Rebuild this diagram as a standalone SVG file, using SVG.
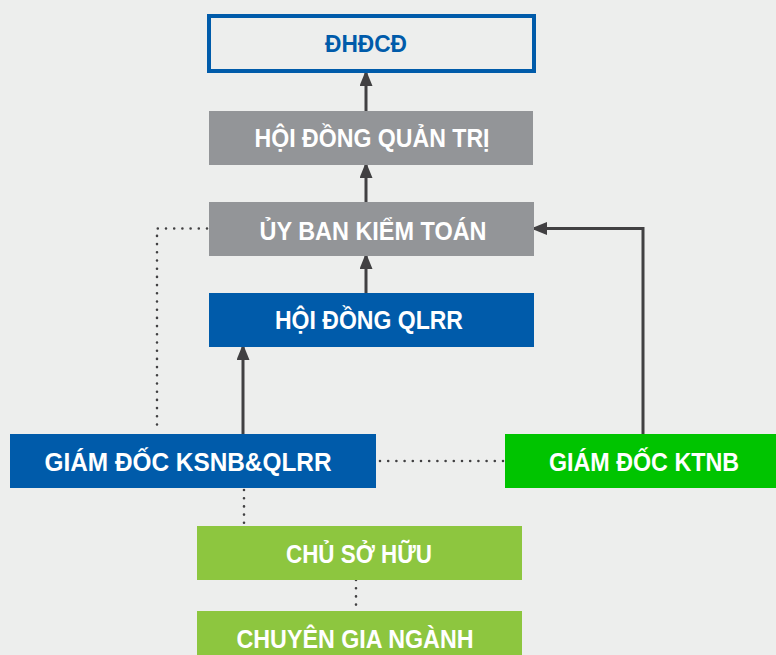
<svg xmlns="http://www.w3.org/2000/svg" width="776" height="655" viewBox="0 0 776 655">
<defs>
<marker id="ah" viewBox="0 0 13 16" refX="13" refY="6.5" markerWidth="13" markerHeight="16" markerUnits="userSpaceOnUse" orient="auto">
<path d="M0,0 L16,6.5 L0,13 Z" fill="#414042"/>
</marker>
<style>
.t{font-family:"Liberation Sans",Arial,sans-serif;font-weight:bold;font-size:25px;fill:#fff;text-anchor:middle}
.line{stroke:#414042;stroke-width:3;fill:none}
.dot{stroke:#414042;stroke-width:2.6;fill:none;stroke-linecap:round;stroke-dasharray:0 8.2}
.blue{fill:#005BAA}.gray{fill:#939598}.green{fill:#00C400}.lg{fill:#8DC63F}
</style>
</defs>
<rect width="776" height="655" fill="#EDEEED"/>
<g id="connectors">
<line class="line" x1="366" y1="111" x2="366" y2="73" marker-end="url(#ah)"/>
<line class="line" x1="366" y1="202" x2="366" y2="165" marker-end="url(#ah)"/>
<line class="line" x1="366" y1="293" x2="366" y2="256" marker-end="url(#ah)"/>
<line class="line" x1="243" y1="434" x2="243" y2="347" marker-end="url(#ah)"/>
<polyline class="line" points="643,434 643,228.5 534,228.5" marker-end="url(#ah)"/>
<polyline class="dot" points="207,228.5 157,228.5 157,432"/>
<line class="dot" x1="380" y1="461" x2="503" y2="461"/>
<line class="dot" x1="244" y1="490" x2="244" y2="525"/>
<line class="dot" x1="356" y1="580" x2="356" y2="610"/>
</g>
<g id="dhdcd">
<rect x="209" y="16" width="325" height="55" fill="#EDEEED" stroke="#005BAA" stroke-width="4"/>
<text class="t" x="366" y="52" style="fill:#005BAA;font-size:23px" textLength="82" lengthAdjust="spacingAndGlyphs">ĐHĐCĐ</text>
</g>
<g id="hdqt">
<rect class="gray" x="209" y="111" width="324" height="54"/>
<text class="t" x="372" y="147" textLength="235" lengthAdjust="spacingAndGlyphs">HỘI ĐỒNG QUẢN TRỊ</text>
</g>
<g id="ubkt">
<rect class="gray" x="209" y="202" width="325" height="54"/>
<text class="t" x="373" y="240" textLength="227" lengthAdjust="spacingAndGlyphs">ỦY BAN KIỂM TOÁN</text>
</g>
<g id="hdqlrr">
<rect class="blue" x="209" y="293" width="325" height="54"/>
<text class="t" x="369" y="329" textLength="188" lengthAdjust="spacingAndGlyphs">HỘI ĐỒNG QLRR</text>
</g>
<g id="gd-ksnb">
<rect class="blue" x="10" y="434" width="366" height="54"/>
<text class="t" x="188" y="471" textLength="287" lengthAdjust="spacingAndGlyphs">GIÁM ĐỐC KSNB&amp;QLRR</text>
</g>
<g id="gd-ktnb">
<rect class="green" x="505" y="434" width="271" height="54"/>
<text class="t" x="644" y="471" textLength="190" lengthAdjust="spacingAndGlyphs">GIÁM ĐỐC KTNB</text>
</g>
<g id="chu-so-huu">
<rect class="lg" x="197" y="526" width="325" height="54"/>
<text class="t" x="359" y="563" textLength="146" lengthAdjust="spacingAndGlyphs">CHỦ SỞ HỮU</text>
</g>
<g id="chuyen-gia">
<rect class="lg" x="197" y="611" width="325" height="50"/>
<text class="t" x="355" y="648" textLength="237" lengthAdjust="spacingAndGlyphs">CHUYÊN GIA NGÀNH</text>
</g>
</svg>
